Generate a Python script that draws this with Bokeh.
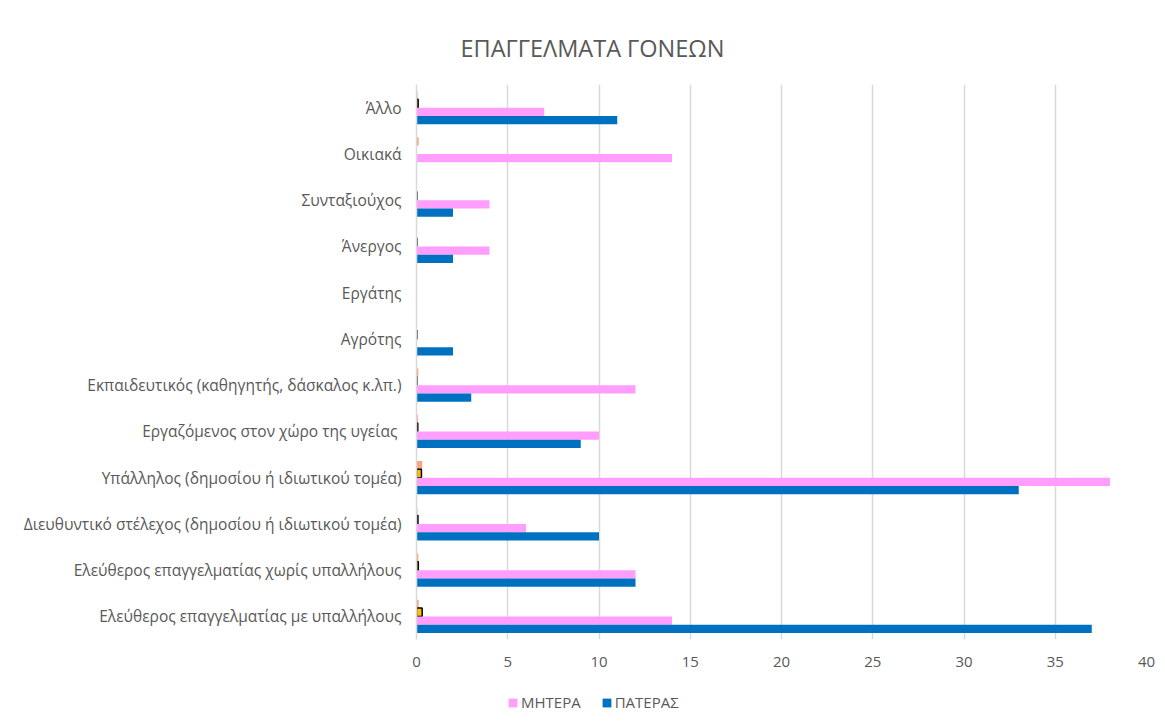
from bokeh.plotting import figure
from bokeh.layouts import column
from bokeh.models import (FactorRange, ColumnDataSource, Legend, LegendItem,
                          Range1d, CDSView, BooleanFilter)
from bokeh.transform import dodge
from bokeh.embed import file_html
from bokeh.resources import INLINE

# categories from bottom to top
categories = [
    "Ελεύθερος επαγγελματίας με υπαλλήλους",
    "Ελεύθερος επαγγελματίας χωρίς υπαλλήλους",
    "Διευθυντικό στέλεχος (δημοσίου ή ιδιωτικού τομέα)",
    "Υπάλληλος (δημοσίου ή ιδιωτικού τομέα)",
    "Εργαζόμενος στον χώρο της υγείας ",
    "Εκπαιδευτικός (καθηγητής, δάσκαλος κ.λπ.)",
    "Αγρότης",
    "Εργάτης",
    "Άνεργος",
    "Συνταξιούχος",
    "Οικιακά",
    "Άλλο",
]
mother = [14, 12, 6, 38, 10, 12, 0, 0, 4, 4, 14, 7]
father = [37, 12, 10, 33, 9, 3, 2, 0, 2, 2, 0, 11]
mother_share = [0.12, 0.10, 0.05, 0.31, 0.08, 0.10, 0, 0, 0.03, 0.03, 0.12, 0.06]
father_share = [0.31, 0.10, 0.08, 0.27, 0.07, 0.02, 0.02, 0, 0.02, 0.02, 0, 0.09]
x_ticks = [0, 5, 10, 15, 20, 25, 30, 35, 40]
series_names = ["ΜΗΤΕΡΑ", "ΠΑΤΕΡΑΣ"]

FONT = "Open Sans"
GREY = "#595959"
PINK = "#FF9EFF"
BLUE = "#0070C0"

src = ColumnDataSource(dict(cat=categories, mother=mother, father=father,
                            mshare=mother_share, fshare=father_share))

p = figure(width=1160, height=685, y_range=FactorRange(factors=categories),
           x_range=Range1d(0, 40), output_backend="svg", toolbar_location=None,
           min_border_left=416, min_border_top=84, min_border_bottom=46,
           min_border_right=14)
p.y_range.range_padding = 0
p.y_range.factor_padding = 0

bh = 0.18
p.hbar(y=dodge("cat", 0.27, range=p.y_range), left=0, right="mshare", height=bh,
       source=src, fill_color="#F4A582", line_color=None)
fview = CDSView(filter=BooleanFilter([v > 0 for v in father_share]))
p.hbar(y=dodge("cat", 0.09, range=p.y_range), left=0, right="fshare", height=bh,
       source=src, view=fview, fill_color="#FFC000", line_color="black", line_width=1.5)
p.hbar(y=dodge("cat", -0.09, range=p.y_range), left=0, right="mother", height=bh,
       source=src, fill_color=PINK, line_color=None)
p.hbar(y=dodge("cat", -0.27, range=p.y_range), left=0, right="father", height=bh,
       source=src, fill_color=BLUE, line_color=None)

p.title.text = "ΕΠΑΓΓΕΛΜΑΤΑ ΓΟΝΕΩΝ"
p.title.text_font = FONT
p.title.text_font_size = "23.5px"
p.title.text_font_style = "normal"
p.title.text_color = GREY
p.title.align = "left"
p.title.offset = 44
p.title.standoff = 41

p.xaxis.ticker = x_ticks
p.xaxis.axis_line_color = None
p.xaxis.major_tick_line_color = None
p.xaxis.minor_tick_line_color = None
p.xaxis.major_tick_out = 0
p.xaxis.major_label_text_font = FONT
p.xaxis.major_label_text_font_size = "15px"
p.xaxis.major_label_text_color = GREY
p.xaxis.major_label_standoff = 17

p.yaxis.axis_line_color = "#d9d9d9"
p.yaxis.axis_line_width = 1.5
p.yaxis.major_tick_line_color = None
p.yaxis.minor_tick_line_color = None
p.yaxis.major_tick_out = 0
p.yaxis.major_label_text_font = FONT
p.yaxis.major_label_text_font_size = "15.5px"
p.yaxis.major_label_text_color = GREY
p.yaxis.major_label_standoff = 15

p.ygrid.grid_line_color = None
p.xgrid.grid_line_color = "#d9d9d9"
p.xgrid.grid_line_width = 1.5
p.outline_line_color = None

# legend strip below the chart (its renderers lie outside its visible range)
q = figure(width=1160, height=36, x_range=Range1d(-2, -1), y_range=Range1d(5, 6),
           output_backend="svg", toolbar_location=None,
           x_axis_type=None, y_axis_type=None,
           min_border_left=0, min_border_right=0, min_border_top=0, min_border_bottom=0)
q.grid.grid_line_color = None
q.outline_line_color = None
one = CDSView(filter=BooleanFilter([True] + [False] * (len(categories) - 1)))
lm = q.hbar(y="mshare", left=0, right="mother", height=0.1, source=src, view=one,
            fill_color=PINK, line_color=None)
lf = q.hbar(y="fshare", left=0, right="father", height=0.1, source=src, view=one,
            fill_color=BLUE, line_color=None)
legend = Legend(items=[LegendItem(label=series_names[0], renderers=[lm]),
                       LegendItem(label=series_names[1], renderers=[lf])],
                orientation="horizontal", location=(91, 9),
                glyph_width=11, glyph_height=11, label_text_font=FONT,
                label_text_font_size="15px", label_text_color=GREY,
                padding=0, margin=0, spacing=20, label_standoff=3,
                border_line_color=None, background_fill_alpha=0)
q.add_layout(legend, "center")

layout = column(p, q, spacing=0)
open("out.html", "w").write(file_html(layout, INLINE))
